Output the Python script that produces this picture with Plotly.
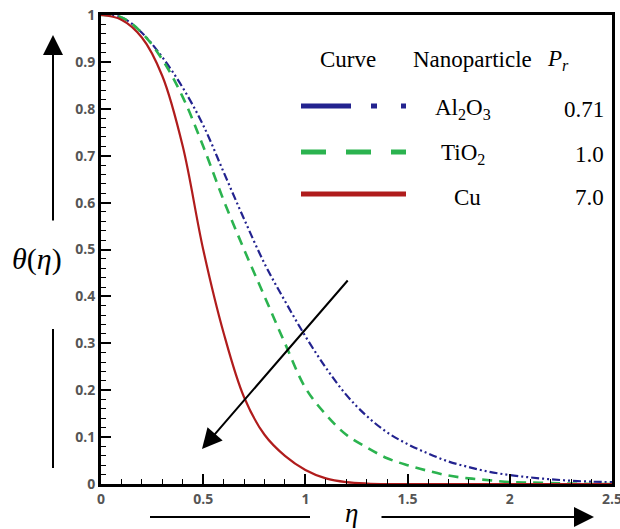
import plotly.graph_objects as go

# Dimensionless temperature profiles theta(eta) for three nanofluids
eta = [0.0, 0.1, 0.2, 0.3, 0.4, 0.5, 0.6, 0.7, 0.8, 0.9, 1.0, 1.1, 1.2, 1.3,
       1.4, 1.5, 1.6, 1.7, 1.8, 1.9, 2.0, 2.1, 2.2, 2.3, 2.4, 2.5]

theta_al2o3 = [1.0, 0.995, 0.962, 0.91, 0.845, 0.765, 0.665, 0.565, 0.47, 0.39,
               0.315, 0.248, 0.19, 0.145, 0.11, 0.085, 0.065, 0.048, 0.036,
               0.026, 0.019, 0.014, 0.010, 0.007, 0.005, 0.004]
theta_tio2 = [1.0, 0.995, 0.962, 0.905, 0.825, 0.72, 0.605, 0.50, 0.40, 0.30,
              0.205, 0.148, 0.105, 0.078, 0.055, 0.04, 0.028, 0.018, 0.012,
              0.008, 0.004, 0.003, 0.002, 0.001, 0.0, 0.0]
theta_cu = [1.0, 0.99, 0.952, 0.87, 0.72, 0.5, 0.322, 0.185, 0.105, 0.06, 0.03,
            0.012, 0.004, 0.001, 0.0, 0.0, 0.0, 0.0, 0.0, 0.0, 0.0, 0.0, 0.0,
            0.0, 0.0, 0.0]

names = ["Al<sub>2</sub>O<sub>3</sub>", "TiO<sub>2</sub>", "Cu"]
prandtl = ["0.71", "1.0", "7.0"]

x_ticks = [0, 0.5, 1, 1.5, 2, 2.5]
x_tick_text = ["0", "0.5", "1", "1.5", "2", "2.5"]
y_ticks = [0, 0.1, 0.2, 0.3, 0.4, 0.5, 0.6, 0.7, 0.8, 0.9, 1]
y_tick_text = ["0", "0.1", "0.2", "0.3", "0.4", "0.5", "0.6", "0.7", "0.8", "0.9", "1"]

BLUE = "#23238f"
GREEN = "#2bb34f"
RED = "#b01c1c"
SERIF = "Liberation Serif"

fig = go.Figure()
fig.add_trace(go.Scatter(x=eta, y=theta_al2o3, mode="lines", line_shape="spline",
                         line=dict(color=BLUE, width=2.2, dash="8px,3px,2px,3px,2px,3px")))
fig.add_trace(go.Scatter(x=eta, y=theta_tio2, mode="lines", line_shape="spline",
                         line=dict(color=GREEN, width=2.6, dash="10px,7px")))
fig.add_trace(go.Scatter(x=eta, y=theta_cu, mode="lines", line_shape="spline",
                         line=dict(color=RED, width=2.2)))

# plot area in pixels: left 101, right 612, top 15, bottom 484
L, R, T, B = 101, 612, 15, 484


def px(x):
    return (x - L) / (R - L)


def py(y):
    return (B - y) / (B - T)


tick_font = dict(family="Open Sans", size=14, color="#555555", weight="bold")
axis_common = dict(showline=True, linewidth=3, linecolor="black", mirror=True,
                   ticks="inside", ticklen=10, tickwidth=2, tickcolor="black",
                   showgrid=False, zeroline=False, tickfont=tick_font,
                   automargin=False, ticklabeloverflow="allow")

fig.update_xaxes(range=[0, 2.5], tickvals=x_ticks, ticktext=x_tick_text,
                 minor=dict(ticks="inside", ticklen=5, tickwidth=1, dtick=0.1,
                            tickcolor="black", showgrid=False),
                 **axis_common)
fig.update_yaxes(range=[0, 1], tickvals=y_ticks, ticktext=y_tick_text,
                 minor=dict(ticks="inside", ticklen=5, tickwidth=1, dtick=0.02,
                            tickcolor="black", showgrid=False),
                 **axis_common)

annotations = []
shapes = []


def label(x, y, text, font, anchor="center"):
    return dict(x=px(x), y=py(y), xref="paper", yref="paper", text=text,
                showarrow=False, font=font, xanchor=anchor, yanchor="middle")


# legend header
header_font = dict(family=SERIF, size=23, color="black")
annotations.append(label(348, 60, "Curve", header_font))
annotations.append(label(472, 60, "Nanoparticle", header_font))
annotations.append(label(558, 60, "<i>P<sub>r</sub></i>", header_font))

# legend rows
swatch_y = [106, 152, 194]
text_y = [109, 154, 198]
name_x = [463, 463, 467]
swatch = [
    dict(color=BLUE, dash="50px,20px,6px,24px,6px,100px"),
    dict(color=GREEN, dash="25px,20px"),
    dict(color=RED, dash="solid"),
]
for i in range(3):
    shapes.append(dict(type="line", xref="paper", yref="paper",
                       x0=px(301), x1=px(406), y0=py(swatch_y[i]), y1=py(swatch_y[i]),
                       line=dict(color=swatch[i]["color"], width=5, dash=swatch[i]["dash"])))
    annotations.append(label(name_x[i], text_y[i], names[i], header_font))
    annotations.append(label(606, text_y[i], prandtl[i], header_font, anchor="right"))

# axis titles with direction arrows
annotations.append(label(37, 259, "<i>θ</i>(<i>η</i>)",
                         dict(family=SERIF, size=30, color="black")))
annotations.append(label(351, 513, "<i>η</i>",
                         dict(family=SERIF, size=27, color="black")))


def arrow(x0, y0, x1, y1):
    # arrow from pixel (x0, y0) to pixel (x1, y1), head at the end
    return dict(x=px(x1), y=py(y1), xref="paper", yref="paper",
                ax=x0 - x1, ay=y0 - y1, axref="pixel", ayref="pixel",
                text="", showarrow=True, arrowhead=2, arrowsize=2.0,
                arrowwidth=2, arrowcolor="black")


# vertical arrow beside the y title
annotations.append(arrow(53, 222, 53, 35))
shapes.append(dict(type="line", xref="paper", yref="paper", x0=px(53), x1=px(53),
                   y0=py(329), y1=py(468), line=dict(color="black", width=2)))

# horizontal arrow beside the x title
shapes.append(dict(type="line", xref="paper", yref="paper", x0=px(150), x1=px(310),
                   y0=py(517), y1=py(517), line=dict(color="black", width=2)))
annotations.append(arrow(380, 517, 594, 517))

# diagonal arrow showing the trend with increasing Prandtl number
annotations.append(arrow(349, 279, 202, 449))

fig.update_layout(
    width=620, height=529,
    margin=dict(l=L, r=620 - R, t=T, b=529 - B),
    paper_bgcolor="white", plot_bgcolor="white",
    showlegend=False,
    annotations=annotations,
    shapes=shapes,
)

fig.write_html("out.html")
